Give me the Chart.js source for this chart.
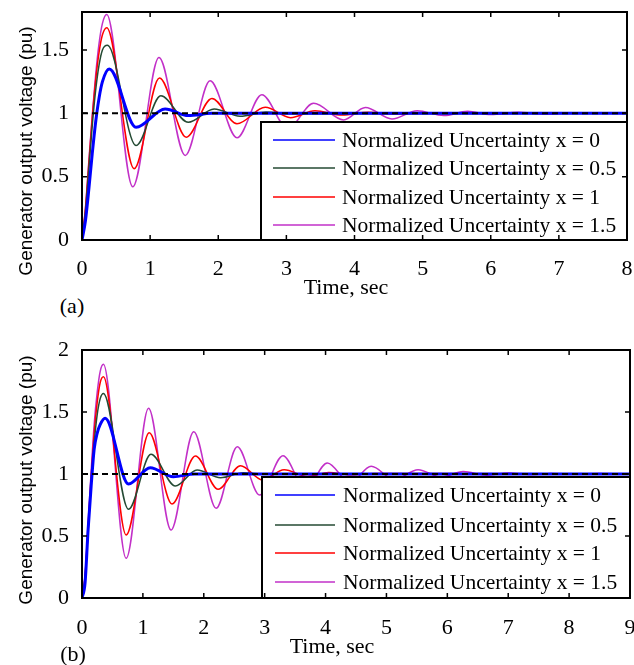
<!DOCTYPE html>
<html><head><meta charset="utf-8">
<script src="https://cdn.jsdelivr.net/npm/chart.js@4.4.1/dist/chart.umd.min.js"></script>
<style>
html,body{margin:0;padding:0;background:#fff;}
#wrap{position:relative;width:634px;height:665px;overflow:hidden;background:#fff;}
canvas{position:absolute;left:0;}
.lbl{position:absolute;white-space:nowrap;line-height:1;color:#000;transform:translate(-50%,-50%);}
.serif{font-family:"Liberation Serif","Times New Roman",serif;font-size:22px;}
.sans{font-family:"Liberation Sans",Arial,sans-serif;font-size:19px;}
.rot{transform:translate(-50%,-50%) rotate(-90deg);}
</style></head>
<body><div id="wrap">
<canvas id="cA" width="634" height="275" style="top:0"></canvas>
<canvas id="cB" width="634" height="330" style="top:335px"></canvas>
<div class="lbl sans rot" style="left:25px;top:151px">Generator output voltage (pu)</div>
<div class="lbl serif" style="left:346px;top:287px">Time, sec</div>
<div class="lbl serif" style="left:72px;top:306px">(a)</div>
<div class="lbl sans rot" style="left:25px;top:480px">Generator output voltage (pu)</div>
<div class="lbl serif" style="left:332px;top:646px">Time, sec</div>
<div class="lbl serif" style="left:73px;top:654px">(b)</div>
</div>
<script>
// ---------- data ----------
const seriesLabels = ['Normalized Uncertainty x = 0','Normalized Uncertainty x = 0.5','Normalized Uncertainty x = 1','Normalized Uncertainty x = 1.5'];

// (a)
const xTicksA = [0,1,2,3,4,5,6,7,8];
const yTicksA = [0,0.5,1,1.5];
const tA0  = [0,0.05,0.1,0.15,0.2,0.25,0.3,0.4,0.794,1.22,1.56,1.9,8];
const vA0  = [0,0.15,0.4,0.68,0.93,1.12,1.25,1.35,0.89,1.034,0.982,1.0,1.0];
const tA05 = [0,0.05,0.1,0.15,0.2,0.25,0.3,0.373,0.794,1.157,1.56,1.94,2.32,2.7,3.1,8];
const vA05 = [0,0.22,0.56,0.9,1.18,1.38,1.5,1.537,0.746,1.139,0.929,1.034,0.977,1.01,0.996,1.0];
const tA1  = [0,0.05,0.1,0.15,0.2,0.25,0.3,0.363,0.765,1.137,1.53,1.907,2.275,2.69,3.06,3.42,3.82,4.2,4.6,5.0,8];
const vA1  = [0,0.24,0.6,0.96,1.26,1.48,1.62,1.676,0.563,1.278,0.812,1.118,0.917,1.048,0.966,1.02,0.986,1.008,0.995,1.003,1.0];
const tA15 = [0,0.05,0.1,0.15,0.2,0.25,0.3,0.363,0.745,1.13,1.515,1.88,2.275,2.64,3.02,3.40,3.84,4.16,4.55,4.92,5.31,5.66,6.0,6.4,6.8,7.2,8];
const vA15 = [0,0.25,0.62,0.98,1.3,1.55,1.71,1.78,0.42,1.44,0.668,1.257,0.807,1.147,0.88,1.079,0.948,1.047,0.955,1.021,0.982,1.016,0.99,1.008,0.995,1.004,1.0];
const refTA = [0,8];
const refVA = [1,1];

// (b)
const xTicksB = [0,1,2,3,4,5,6,7,8,9];
const yTicksB = [0,0.5,1,1.5,2];
const tB0  = [0,0.05,0.1,0.15,0.2,0.25,0.3,0.38,0.764,1.12,1.5,1.85,9];
const vB0  = [0,0.12,0.55,0.9,1.2,1.33,1.4,1.449,0.919,1.051,0.978,1.0,1.0];
const tB05 = [0,0.05,0.1,0.15,0.2,0.25,0.3,0.352,0.764,1.132,1.533,1.89,2.275,2.65,3.0,9];
const vB05 = [0,0.16,0.54,0.92,1.25,1.48,1.61,1.65,0.715,1.159,0.903,1.032,0.97,1.01,0.997,1.0];
const tB1  = [0,0.05,0.1,0.15,0.2,0.25,0.3,0.352,0.725,1.104,1.478,1.863,2.236,2.604,2.963,3.32,3.7,4.05,4.45,4.8,9];
const vB1  = [0,0.17,0.57,0.97,1.33,1.58,1.74,1.785,0.508,1.333,0.758,1.145,0.877,1.067,0.952,1.034,0.98,1.012,0.993,1.005,1.0];
const tB15 = [0,0.05,0.1,0.15,0.2,0.25,0.3,0.352,0.725,1.093,1.462,1.835,2.203,2.55,2.917,3.30,3.67,4.03,4.4,4.75,5.13,5.52,5.9,6.26,6.65,7.0,7.37,7.71,8.1,8.48,9];
const vB15 = [0,0.18,0.6,1.02,1.4,1.66,1.83,1.885,0.32,1.53,0.548,1.341,0.723,1.22,0.83,1.148,0.88,1.089,0.93,1.062,0.955,1.035,0.975,1.02,0.99,1.008,0.996,1.005,0.997,1.004,1.0];
const refTB = [0,9];
const refVB = [1,1];

// ---------- styling ----------
const colors = ['#0000ff','#244a33','#ff0000','#c230c8'];
const widths = [3,1.5,1.5,1.5];
const SERIF = '"Liberation Serif","Times New Roman",serif';

const pts = (t, v) => t.map((x, i) => ({x, y: v[i]}));

const boxPlugin = {
  id: 'boxFrame',
  afterDatasetsDraw(chart, args, o) {
    const {ctx, chartArea: a, scales} = chart;
    ctx.save();
    // legend box
    const L = a.left + o.legL, T = a.top + o.legT, R = a.right - o.legRgap, B = a.bottom;
    ctx.fillStyle = '#fff';
    ctx.fillRect(L, T, R - L, B - T);
    ctx.strokeStyle = '#000'; ctx.lineWidth = 2;
    ctx.strokeRect(L, T, R - L, B - T);
    ctx.font = '21.5px ' + SERIF;
    ctx.textBaseline = 'middle'; ctx.textAlign = 'left';
    for (let i = 0; i < 4; i++) {
      const ds = chart.data.datasets[i];
      const yy = T + o.rowY[i];
      ctx.strokeStyle = ds.borderColor; ctx.lineWidth = 1.6;
      ctx.beginPath(); ctx.moveTo(L + o.lineX[0], yy); ctx.lineTo(L + o.lineX[1], yy); ctx.stroke();
      ctx.fillStyle = '#000';
      ctx.fillText(ds.label, L + o.textX, yy + 1);
    }
    // axes frame
    ctx.strokeStyle = '#000'; ctx.lineWidth = 2;
    ctx.strokeRect(a.left, a.top, a.right - a.left, a.bottom - a.top);
    // inner ticks
    ctx.lineWidth = 1.5;
    const tl = 5;
    ctx.beginPath();
    scales.x.ticks.forEach(t => {
      const px = scales.x.getPixelForValue(t.value);
      ctx.moveTo(px, a.bottom); ctx.lineTo(px, a.bottom - tl);
      ctx.moveTo(px, a.top); ctx.lineTo(px, a.top + tl);
    });
    scales.y.ticks.forEach(t => {
      const py = scales.y.getPixelForValue(t.value);
      ctx.moveTo(a.left, py); ctx.lineTo(a.left + tl, py);
      ctx.moveTo(a.right, py); ctx.lineTo(a.right - tl, py);
    });
    ctx.stroke();
    ctx.restore();
  }
};

function makeChart(id, series, ref, xMax, yMax, xTicks, yTicks, geom) {
  const datasets = series.map((s, i) => ({
    label: seriesLabels[i],
    data: pts(s[0], s[1]),
    borderColor: colors[i],
    borderWidth: widths[i],
    pointRadius: 0,
    fill: false,
    cubicInterpolationMode: 'monotone',
    order: i + 1
  }));
  datasets.push({
    label: 'ref',
    data: pts(ref[0], ref[1]),
    borderColor: '#000',
    borderWidth: 2,
    borderDash: [6, 4],
    pointRadius: 0,
    fill: false,
    order: 0
  });
  return new Chart(document.getElementById(id), {
    type: 'line',
    data: {datasets},
    options: {
      responsive: false,
      animation: false,
      devicePixelRatio: 1,
      layout: {padding: {top: geom.top, right: geom.right, left: 0, bottom: 0}},
      plugins: {legend: {display: false}, tooltip: {enabled: false}, boxFrame: geom.legend},
      scales: {
        x: {
          type: 'linear', min: 0, max: xMax,
          grid: {display: false}, border: {display: false},
          afterBuildTicks: s => { s.ticks = xTicks.map(v => ({value: v})); },
          ticks: {color: '#000', padding: geom.xPad, maxRotation: 0, autoSkip: false,
                  font: {family: SERIF, size: 22}, callback: v => String(v)},
          afterFit: s => { s.height = geom.xH; s.paddingLeft = 0; s.paddingRight = 0; s.paddingTop = 0; s.paddingBottom = 0; }
        },
        y: {
          type: 'linear', min: 0, max: yMax,
          grid: {display: false}, border: {display: false},
          afterBuildTicks: s => { s.ticks = yTicks.map(v => ({value: v})); },
          ticks: {color: '#000', padding: 5, font: {family: SERIF, size: 22}, callback: v => String(v)},
          afterFit: s => { s.width = 82; s.paddingTop = 0; s.paddingBottom = 0; s.paddingLeft = 0; s.paddingRight = 0; }
        }
      }
    },
    plugins: [boxPlugin]
  });
}

makeChart('cA', [[tA0, vA0], [tA05, vA05], [tA1, vA1], [tA15, vA15]], [refTA, refVA], 8, 1.8, xTicksA, yTicksA,
  {top: 12, right: 7, xH: 35, xPad: 8,
   legend: {legL: 179, legT: 110, legRgap: 0, rowY: [18, 46, 75, 103], lineX: [12, 74], textX: 81}});

makeChart('cB', [[tB0, vB0], [tB05, vB05], [tB1, vB1], [tB15, vB15]], [refTB, refVB], 9, 2, xTicksB, yTicksB,
  {top: 15, right: 4, xH: 67, xPad: 9,
   legend: {legL: 180, legT: 127, legRgap: 0, rowY: [18, 48, 76, 105], lineX: [13, 73], textX: 81}});
</script>
</body></html>
